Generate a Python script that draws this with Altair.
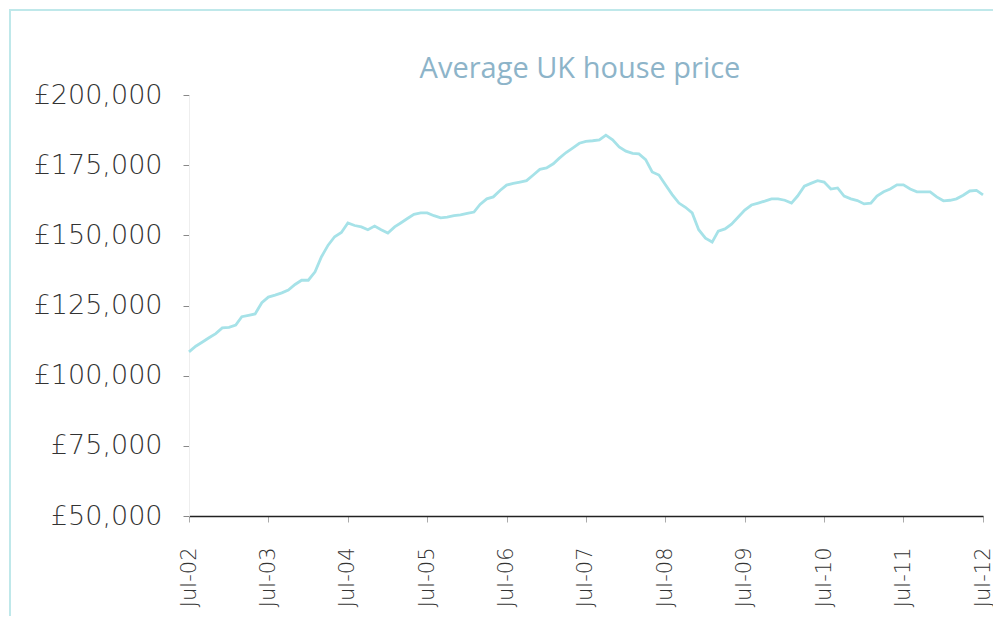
import altair as alt
import pandas as pd

# Monthly average UK house price (GBP thousands), Jul-2002 .. Jul-2012
start_month = "2002-07-01"
prices_k = [
    # Jul-02 .. Jun-03
    108.5, 110.5, 112.0, 113.5, 115.0, 117.0, 117.2, 118.0, 121.0, 121.5, 122.0, 126.0,
    # Jul-03 .. Jun-04
    128.0, 128.7, 129.5, 130.5, 132.5, 134.0, 134.0, 137.0, 142.3, 146.5, 149.5, 151.0,
    # Jul-04 .. Jun-05
    154.4, 153.5, 153.0, 152.0, 153.3, 152.0, 150.8, 153.0, 154.4, 156.0, 157.5, 158.0,
    # Jul-05 .. Jun-06
    158.0, 157.0, 156.2, 156.5, 157.0, 157.3, 157.8, 158.3, 161.0, 163.0, 163.7, 166.0,
    # Jul-06 .. Jun-07
    167.9, 168.5, 169.0, 169.5, 171.5, 173.5, 174.0, 175.5, 177.5, 179.5, 181.1, 182.8,
    # Jul-07 .. Jun-08
    183.5, 183.7, 184.0, 185.7, 184.0, 181.5, 180.0, 179.2, 179.0, 177.0, 172.6, 171.5,
    # Jul-08 .. Jun-09
    168.0, 164.5, 161.5, 160.0, 158.0, 152.0, 149.0, 147.6, 151.5, 152.3, 154.0, 156.5,
    # Jul-09 .. Jun-10
    159.0, 160.8, 161.5, 162.2, 163.0, 163.0, 162.5, 161.5, 164.0, 167.5, 168.5, 169.5,
    # Jul-10 .. Jun-11
    169.0, 166.5, 166.9, 164.0, 163.0, 162.4, 161.2, 161.5, 164.0, 165.5, 166.5, 168.0,
    # Jul-11 .. Jun-12
    168.0, 166.5, 165.5, 165.5, 165.5, 163.7, 162.3, 162.5, 163.0, 164.3, 165.8, 166.0,
    # Jul-12
    164.4,
]
tick_years = list(range(2002, 2013))
y_ticks = [50000, 75000, 100000, 125000, 150000, 175000, 200000]

dates = pd.date_range(start_month, periods=len(prices_k), freq="MS")
df = pd.DataFrame({"date": dates, "price": [p * 1000 for p in prices_k]})

tick_dates = [alt.DateTime(year=y, month=7, date=1) for y in tick_years]

W, H = 794, 421

line = alt.Chart(df).mark_line(color="#a6e2e8", strokeWidth=2.8).encode(
    x=alt.X(
        "date:T",
        scale=alt.Scale(domain=[alt.DateTime(year=2002, month=7, date=1),
                                alt.DateTime(year=2012, month=7, date=1)]),
        axis=alt.Axis(
            values=tick_dates, format="%b-%y", labelAngle=-90, title=None,
            domainColor="#222222", domainWidth=1.6, tickColor="#aaaaaa",
            tickSize=6, labelPadding=25, labelFontSize=21, labelColor="#333333",
            labelFont="DejaVu Sans", labelFontWeight=300, grid=False,
        ),
    ),
    y=alt.Y(
        "price:Q",
        scale=alt.Scale(domain=[50000, 200000], nice=False, zero=False),
        axis=alt.Axis(
            values=y_ticks, labelExpr="'£' + format(datum.value, ',')", title=None,
            domainColor="#eeeeee", tickColor="#888888", tickSize=6,
            labelPadding=21, labelFontSize=27, labelColor="#333333",
            labelFont="DejaVu Sans", labelFontWeight=300, grid=False,
        ),
    ),
)

frame = alt.Chart(df).mark_rect(
    fill=None, stroke="#bfe8ea", strokeWidth=2, clip=False
).encode(
    x=alt.value(-179), x2=alt.value(W + 60), y=alt.value(-85), y2=alt.value(H + 200)
)

chart = alt.layer(frame, line).properties(
    width=W, height=H,
    title=alt.TitleParams(
        "Average UK house price", font="Open Sans", fontSize=29, fontWeight="normal",
        color="#8db4c9", anchor="middle", offset=-75, dx=-6,
    ),
    autosize=alt.AutoSizeParams(type="none"),
    padding={"left": 181, "top": 87, "right": 10, "bottom": 100},
).configure_view(stroke=None)

chart.save("out.html", embed_options={"renderer": "svg", "actions": False})
